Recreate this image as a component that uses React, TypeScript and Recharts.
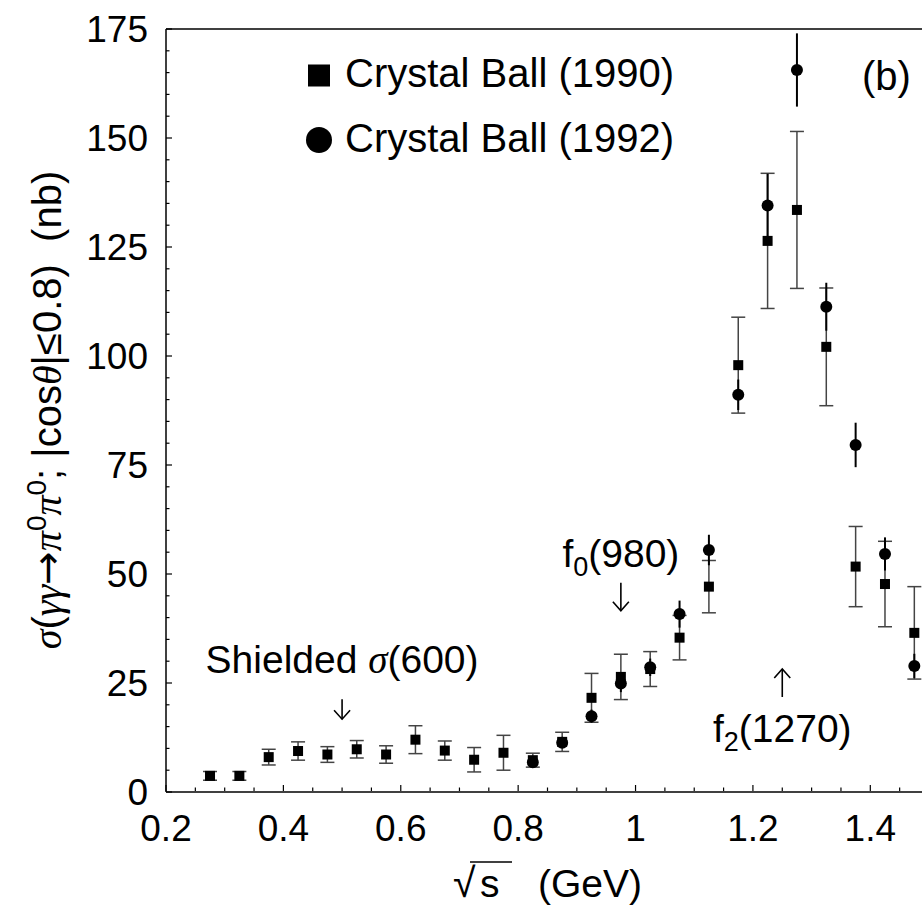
import React from "react";
import { ScatterChart, Scatter, XAxis, YAxis, ErrorBar, ReferenceDot } from "recharts";

// Crystal Ball (1990): bin centres in GeV, cross section and error in nb
const binCenters1990 = [
  0.275, 0.325, 0.375, 0.425, 0.475, 0.525, 0.575, 0.625, 0.675, 0.725, 0.775, 0.825, 0.875,
  0.925, 0.975, 1.025, 1.075, 1.125, 1.175, 1.225, 1.275, 1.325, 1.375, 1.425, 1.475,
];
const sigma1990 = [
  3.7, 3.7, 8.0, 9.4, 8.6, 9.8, 8.6, 12.0, 9.5, 7.4, 9.0, 7.3, 11.5, 21.6, 26.4, 28.2, 35.4,
  47.1, 97.9, 126.4, 133.5, 102.1, 51.7, 47.7, 36.5,
];
const err1990 = [
  1.0, 1.0, 1.8, 2.1, 1.8, 2.0, 2.0, 3.2, 2.2, 2.8, 4.0, 1.6, 2.2, 5.6, 5.2, 4.0, 5.1, 6.0,
  11.0, 15.5, 18.0, 13.5, 9.2, 9.8, 10.6,
];

// Crystal Ball (1992)
const binCenters1992 = [
  0.825, 0.875, 0.925, 0.975, 1.025, 1.075, 1.125, 1.175, 1.225, 1.275, 1.325, 1.375, 1.425, 1.475,
];
const sigma1992 = [6.8, 11.3, 17.4, 24.9, 28.6, 40.8, 55.5, 91.1, 134.5, 165.6, 111.3, 79.6, 54.6, 28.9];
const err1992 = [1.0, 1.2, 1.5, 2.0, 2.0, 3.1, 3.5, 3.5, 7.3, 8.4, 5.5, 5.1, 3.8, 2.8];

const xMajorTicks = [0.2, 0.4, 0.6, 0.8, 1, 1.2, 1.4];
const xTickLabels = ["0.2", "0.4", "0.6", "0.8", "1", "1.2", "1.4"];
const yMajorTicks = [0, 25, 50, 75, 100, 125, 150, 175];
const yTickLabels = ["0", "25", "50", "75", "100", "125", "150", "175"];

const xAllTicks = Array.from({ length: 27 }, (_, i) => +(0.2 + i * 0.05).toFixed(2));
const yAllTicks = Array.from({ length: 36 }, (_, i) => i * 5);

const data1990 = binCenters1990.map((x, i) => ({ x, y: sigma1990[i], err: err1990[i] }));
const data1992 = binCenters1992.map((x, i) => ({ x, y: sigma1992[i], err: err1992[i] }));

const FONT = "'Liberation Sans', Arial, Helvetica, sans-serif";
const GREEK = "'Liberation Serif', 'Times New Roman', serif";

const majorX = (v: number) => xMajorTicks.findIndex((t) => Math.abs(t - v) < 1e-6);

const BottomTick = ({ x, y, payload }: any) => {
  const i = majorX(payload.value);
  const y0 = y - 1;
  return (
    <g>
      <line x1={x} x2={x} y1={y0} y2={y0 - (i >= 0 ? 6 : 3.5)} stroke="#000" strokeWidth={1.2} />
      {i >= 0 && (
        <text x={x} y={y0 + 50} textAnchor="middle" fontSize={37} fontFamily={FONT} fill="#000">
          {xTickLabels[i]}
        </text>
      )}
    </g>
  );
};

const TopTick = ({ x, y, payload }: any) => {
  const i = majorX(payload.value);
  return <line x1={x} x2={x} y1={y} y2={y + (i >= 0 ? 6 : 3.5)} stroke="#000" strokeWidth={1.2} />;
};

const LeftTick = ({ x, y, payload }: any) => {
  const i = yMajorTicks.indexOf(payload.value);
  return (
    <g>
      <line x1={x} x2={x + (i >= 0 ? 6 : 3.5)} y1={y} y2={y} stroke="#000" strokeWidth={1.2} />
      {i >= 0 && (
        <text x={x - 18} y={y + 13} textAnchor="end" fontSize={37} fontFamily={FONT} fill="#000">
          {yTickLabels[i]}
        </text>
      )}
    </g>
  );
};

const SquareDot = (p: any) => <rect x={p.cx - 5} y={p.cy - 5} width={10} height={10} fill="#000" />;
const RoundDot = (p: any) => <circle cx={p.cx} cy={p.cy} r={6} fill="#000" />;

// text annotations anchored to data coordinates
const ShieldedNote = (p: any) => (
  <text x={p.cx} y={p.cy} textAnchor="middle" fontSize={39} fontFamily={FONT} fill="#000">
    Shielded <tspan fontFamily={GREEK} fontStyle="italic">σ</tspan>(600)
  </text>
);
const F0Note = (p: any) => (
  <text x={p.cx} y={p.cy} textAnchor="middle" fontSize={39} fontFamily={FONT} fill="#000">
    f<tspan fontSize={27} dy={9}>0</tspan>
    <tspan dy={-9}>(980)</tspan>
  </text>
);
const F2Note = (p: any) => (
  <text x={p.cx} y={p.cy} textAnchor="middle" fontSize={39} fontFamily={FONT} fill="#000">
    f<tspan fontSize={27} dy={9}>2</tspan>
    <tspan dy={-9}>(1270)</tspan>
  </text>
);
// thin arrow centred on the anchor, dir = 1 points down, -1 points up
const Arrow = (dir: number, len: number) => (p: any) => {
  const tip = p.cy + (dir * len) / 2;
  const tail = p.cy - (dir * len) / 2;
  return (
    <g stroke="#000" strokeWidth={1.6} fill="none">
      <line x1={p.cx} x2={p.cx} y1={tail} y2={tip} />
      <polyline points={`${p.cx - 8},${tip - dir * 9} ${p.cx},${tip} ${p.cx + 8},${tip - dir * 9}`} />
    </g>
  );
};

export default function App() {
  return (
    <div style={{ position: "fixed", left: 0, top: 0, width: 922, height: 909, overflow: "hidden", background: "#fff" }}>
      <ScatterChart width={949} height={909} margin={{ top: 28, right: 20, bottom: 116, left: 165 }}>
        <XAxis
          dataKey="x"
          type="number"
          domain={[0.2, 1.5]}
          ticks={xAllTicks}
          interval={0}
          tick={<BottomTick />}
          tickLine={false}
          tickSize={0}
          tickMargin={0}
          height={1}
          axisLine={{ stroke: "#000", strokeWidth: 1.5 }}
        />
        <XAxis
          xAxisId="top"
          orientation="top"
          dataKey="x"
          type="number"
          domain={[0.2, 1.5]}
          ticks={xAllTicks}
          interval={0}
          tick={<TopTick />}
          tickLine={false}
          tickSize={0}
          tickMargin={0}
          height={1}
          axisLine={{ stroke: "#000", strokeWidth: 1.5 }}
        />
        <YAxis
          dataKey="y"
          type="number"
          domain={[0, 175]}
          ticks={yAllTicks}
          interval={0}
          tick={<LeftTick />}
          tickLine={false}
          tickSize={0}
          tickMargin={0}
          width={1}
          axisLine={{ stroke: "#000", strokeWidth: 1.5 }}
        />
        <Scatter data={data1990} shape={SquareDot} isAnimationActive={false}>
          <ErrorBar dataKey="err" direction="y" width={7} stroke="#444" strokeWidth={1.5} />
        </Scatter>
        <Scatter data={data1992} shape={RoundDot} isAnimationActive={false}>
          <ErrorBar dataKey="err" direction="y" width={0} stroke="#000" strokeWidth={2} />
        </Scatter>
        <ReferenceDot x={0.5} y={27.3} r={0} shape={ShieldedNote} />
        <ReferenceDot x={0.5} y={19} r={0} shape={Arrow(1, 20)} />
        <ReferenceDot x={0.975} y={51.6} r={0} shape={F0Note} />
        <ReferenceDot x={0.975} y={44.8} r={0} shape={Arrow(1, 28)} />
        <ReferenceDot x={1.25} y={25} r={0} shape={Arrow(-1, 28)} />
        <ReferenceDot x={1.25} y={11.5} r={0} shape={F2Note} />
      </ScatterChart>
      <svg
        width={922}
        height={909}
        style={{ position: "absolute", left: 0, top: 0, pointerEvents: "none" }}
        fontFamily={FONT}
        fill="#000"
      >
        {/* legend */}
        <rect x={308} y={64.5} width={22} height={22} />
        <text x={345} y={87} fontSize={40}>Crystal Ball (1990)</text>
        <circle cx={319} cy={140} r={13} />
        <text x={345} y={152} fontSize={40}>Crystal Ball (1992)</text>
        <text x={862} y={90} fontSize={40}>(b)</text>

        {/* y axis title */}
        <text transform="rotate(-90)" x={-410} y={61} textAnchor="middle" fontSize={40} style={{ whiteSpace: "pre" }}>
          <tspan fontFamily={GREEK} fontStyle="italic">σ</tspan>(
          <tspan fontFamily={GREEK} fontStyle="italic">γγ</tspan>
          <tspan fontFamily="'DejaVu Sans', sans-serif">→</tspan>
          <tspan fontFamily={GREEK} fontStyle="italic">π</tspan>
          <tspan fontSize={28} dy={-15}>0</tspan>
          <tspan fontFamily={GREEK} fontStyle="italic" dy={15}>π</tspan>
          <tspan fontSize={28} dy={-15}>0</tspan>
          <tspan dy={15}>; |cos</tspan>
          <tspan fontFamily={GREEK} fontStyle="italic">θ</tspan>|≤0.8)  (nb)
        </text>

        {/* x axis title */}
        <text x={453} y={897} fontSize={41}>√</text>
        <text x={480} y={897} fontSize={39}>s</text>
        <line x1={470} x2={512} y1={862} y2={862} stroke="#000" strokeWidth={1.5} />
        <text x={538} y={897} fontSize={39}>(GeV)</text>
      </svg>
    </div>
  );
}
